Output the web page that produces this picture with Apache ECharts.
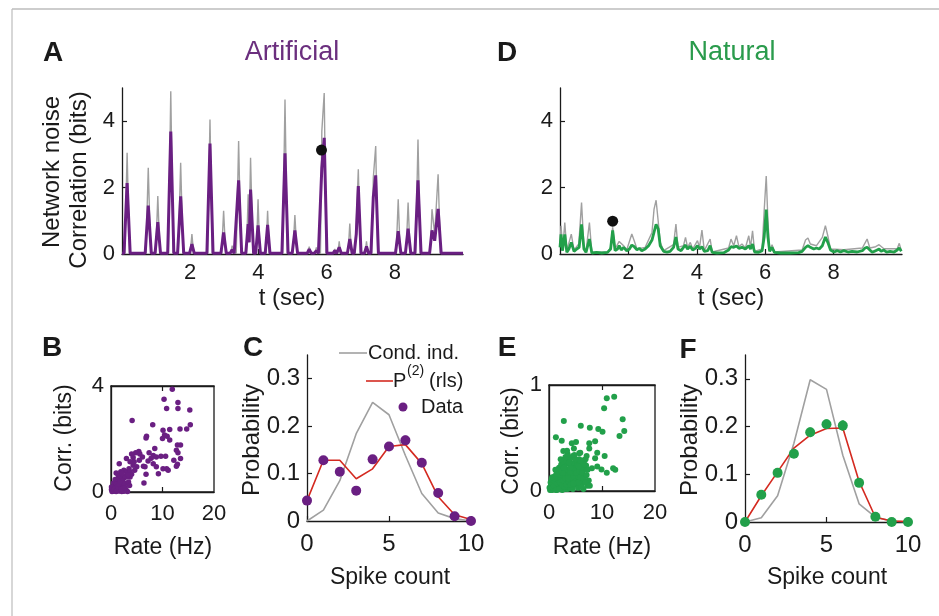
<!DOCTYPE html>
<html>
<head>
<meta charset="utf-8">
<script src="https://cdn.jsdelivr.net/npm/echarts@6/dist/echarts.min.js"></script>
<style>
  html, body { margin: 0; padding: 0; background: #fff; }
  #chart { width: 939px; height: 616px; }
</style>
</head>
<body>
<div id="chart"></div>
<script>
// A: artificial movie, t (sec) vs correlation (bits)
var artTrace = [
  [0, 0.02], [0.06, 0.02], [0.15, 2.14], [0.24, 0.02],
  [0.68, 0.02], [0.77, 1.46], [0.86, 0.02],
  [0.97, 0.02], [1.05, 0.96], [1.13, 0.02],
  [1.34, 0.02], [1.43, 3.69], [1.52, 0.02],
  [1.63, 0.02], [1.72, 1.74], [1.81, 0.02],
  [1.98, 0.02], [2.05, 0.30], [2.12, 0.02],
  [2.49, 0.02], [2.58, 3.33], [2.67, 0.02],
  [2.90, 0.02], [2.98, 0.65], [3.06, 0.02],
  [3.17, 0.02], [3.23, 0.13], [3.29, 0.02],
  [3.33, 0.02], [3.42, 2.22], [3.51, 0.02],
  [3.63, 0.02], [3.70, 0.90], [3.73, 0.35], [3.77, 1.94], [3.86, 0.02],
  [3.92, 0.02], [3.99, 0.86], [4.06, 0.02],
  [4.20, 0.02], [4.27, 0.88], [4.34, 0.02],
  [4.69, 0.02], [4.78, 3.03], [4.87, 0.02],
  [4.99, 0.02], [5.07, 0.71], [5.15, 0.02],
  [5.43, 0.02], [5.49, 0.15], [5.55, 0.02],
  [5.64, 0.02], [5.70, 0.10], [5.76, 0.02],
  [5.80, 0.02], [5.86, 2.60], [5.93, 3.50], [6.01, 0.02],
  [6.19, 0.02], [6.24, 0.10], [6.29, 0.02],
  [6.31, 0.02], [6.37, 0.20], [6.43, 0.02],
  [6.61, 0.02], [6.68, 0.45], [6.75, 0.02],
  [6.81, 0.02], [6.87, 0.60], [6.93, 2.05], [7.01, 0.02],
  [7.11, 0.02], [7.17, 0.23], [7.23, 0.02],
  [7.30, 0.02], [7.37, 1.72], [7.44, 2.37], [7.52, 0.02],
  [8.02, 0.02], [8.10, 0.69], [8.18, 0.02],
  [8.31, 0.02], [8.39, 0.76], [8.47, 0.02],
  [8.59, 0.02], [8.68, 2.22], [8.77, 0.02],
  [9.02, 0.02], [9.09, 0.71], [9.17, 0.40], [9.27, 1.36], [9.36, 0.02],
  [10, 0.02]
];
var artGray = [
  [0, 0.02], [0.08, 0.02], [0.15, 3.05], [0.22, 0.02],
  [0.70, 0.02], [0.77, 2.60], [0.84, 0.02],
  [0.99, 0.02], [1.05, 1.75], [1.11, 0.02],
  [1.36, 0.02], [1.43, 4.90], [1.50, 0.02],
  [1.65, 0.02], [1.72, 2.75], [1.79, 0.02],
  [2.00, 0.02], [2.05, 0.60], [2.10, 0.02],
  [2.51, 0.02], [2.58, 4.05], [2.65, 0.02],
  [2.92, 0.02], [2.98, 1.30], [3.04, 0.02],
  [3.19, 0.02], [3.23, 0.25], [3.27, 0.02],
  [3.35, 0.02], [3.42, 3.40], [3.49, 0.02],
  [3.65, 0.02], [3.70, 1.80], [3.73, 0.60], [3.77, 2.90], [3.84, 0.02],
  [3.94, 0.02], [3.99, 1.65], [4.04, 0.02],
  [4.22, 0.02], [4.27, 1.30], [4.32, 0.02],
  [4.71, 0.02], [4.78, 4.65], [4.85, 0.02],
  [5.01, 0.02], [5.07, 1.17], [5.13, 0.02],
  [5.45, 0.02], [5.49, 0.22], [5.53, 0.02],
  [5.66, 0.02], [5.70, 0.20], [5.74, 0.02],
  [5.82, 0.02], [5.86, 3.70], [5.93, 4.85], [5.99, 0.02],
  [6.21, 0.02], [6.24, 0.15], [6.27, 0.02],
  [6.33, 0.02], [6.37, 0.38], [6.41, 0.02],
  [6.63, 0.02], [6.68, 0.92], [6.73, 0.02],
  [6.83, 0.02], [6.87, 0.90], [6.93, 2.55], [6.99, 0.02],
  [7.13, 0.02], [7.17, 0.38], [7.21, 0.02],
  [7.32, 0.02], [7.37, 2.30], [7.44, 3.25], [7.50, 0.02],
  [8.04, 0.02], [8.10, 1.65], [8.16, 0.02],
  [8.33, 0.02], [8.39, 1.55], [8.45, 0.02],
  [8.61, 0.02], [8.68, 3.45], [8.75, 0.02],
  [9.04, 0.02], [9.09, 1.35], [9.17, 0.60], [9.27, 2.40], [9.34, 0.02],
  [10, 0.02]
];
var artDot = [[5.85, 3.13]];

// D: natural movie
var natTrace = [
  [0, 0.20], [0.03, 0.59], [0.07, 0.10], [0.14, 0.59], [0.20, 0.05], [0.26, 0.15],
  [0.33, 0.35], [0.41, 0.08], [0.49, 0.15], [0.56, 0.20], [0.63, 0.89], [0.70, 0.15],
  [0.76, 0.05], [0.86, 0.45], [0.93, 0.03], [1.07, 0.05], [1.22, 0.03], [1.39, 0.05],
  [1.48, 0.15], [1.54, 0.71], [1.61, 0.10], [1.68, 0.15], [1.73, 0.25], [1.79, 0.12],
  [1.86, 0.20], [1.95, 0.10], [2.03, 0.15], [2.10, 0.27], [2.17, 0.22], [2.25, 0.13],
  [2.32, 0.17], [2.39, 0.10], [2.49, 0.15], [2.59, 0.25], [2.69, 0.42], [2.75, 0.66],
  [2.81, 0.89], [2.87, 0.76], [2.93, 0.25], [3.03, 0.08], [3.13, 0.06], [3.22, 0.08],
  [3.32, 0.20], [3.39, 0.51], [3.45, 0.15], [3.54, 0.10], [3.61, 0.20], [3.67, 0.27],
  [3.73, 0.15], [3.81, 0.23], [3.88, 0.12], [3.96, 0.17], [4.02, 0.25], [4.08, 0.15],
  [4.15, 0.22], [4.22, 0.08], [4.32, 0.10], [4.39, 0.25], [4.45, 0.05], [4.59, 0.03],
  [4.79, 0.04], [4.93, 0.12], [5.00, 0.22], [5.08, 0.20], [5.16, 0.24], [5.23, 0.17],
  [5.32, 0.20], [5.42, 0.15], [5.52, 0.25], [5.57, 0.15], [5.63, 0.30], [5.69, 0.06],
  [5.81, 0.05], [5.91, 0.10], [5.97, 0.51], [6.03, 1.34], [6.08, 0.51], [6.13, 0.08],
  [6.20, 0.20], [6.27, 0.05], [6.45, 0.03], [6.74, 0.03], [6.98, 0.04], [7.08, 0.08],
  [7.18, 0.20], [7.25, 0.25], [7.32, 0.20], [7.42, 0.15], [7.50, 0.18], [7.58, 0.15],
  [7.67, 0.25], [7.76, 0.51], [7.83, 0.35], [7.91, 0.12], [8.01, 0.06], [8.11, 0.10],
  [8.20, 0.06], [8.30, 0.10], [8.42, 0.06], [8.54, 0.08], [8.69, 0.06], [8.84, 0.10],
  [8.92, 0.18], [8.98, 0.20], [9.06, 0.12], [9.13, 0.05], [9.23, 0.10], [9.33, 0.15],
  [9.39, 0.08], [9.47, 0.12], [9.55, 0.06], [9.65, 0.08], [9.77, 0.06], [9.86, 0.12],
  [9.92, 0.18], [9.98, 0.08]
];
var natGray = [
  [0, 0.30], [0.03, 0.85], [0.08, 0.15], [0.14, 0.95], [0.20, 0.10], [0.33, 0.60],
  [0.41, 0.12], [0.55, 0.30], [0.63, 1.55], [0.70, 0.20], [0.76, 0.08], [0.86, 0.95],
  [0.93, 0.05], [1.40, 0.06], [1.48, 0.20], [1.54, 0.80], [1.61, 0.15], [1.73, 0.38],
  [1.86, 0.25], [1.95, 0.12], [2.10, 0.60], [2.17, 0.40], [2.25, 0.15], [2.49, 0.20],
  [2.69, 0.65], [2.75, 1.35], [2.81, 1.62], [2.87, 1.00], [2.93, 0.35], [3.03, 0.10],
  [3.32, 0.28], [3.39, 0.90], [3.45, 0.20], [3.61, 0.25], [3.67, 0.50], [3.73, 0.20],
  [3.81, 0.35], [3.88, 0.15], [4.02, 0.40], [4.08, 0.20], [4.15, 0.72], [4.22, 0.10],
  [4.39, 0.45], [4.45, 0.06], [4.93, 0.18], [5.00, 0.45], [5.08, 0.25], [5.16, 0.55],
  [5.23, 0.22], [5.32, 0.30], [5.42, 0.18], [5.52, 0.55], [5.57, 0.20], [5.63, 0.70],
  [5.69, 0.08], [5.91, 0.15], [5.97, 1.30], [6.03, 2.35], [6.08, 1.00], [6.13, 0.10],
  [6.20, 0.28], [6.27, 0.06], [7.08, 0.12], [7.18, 0.42], [7.25, 0.48], [7.32, 0.30],
  [7.50, 0.25], [7.67, 0.50], [7.76, 0.85], [7.83, 0.55], [7.91, 0.15], [8.30, 0.13],
  [8.84, 0.18], [8.98, 0.45], [9.06, 0.18], [9.23, 0.22], [9.33, 0.28], [9.47, 0.16],
  [9.86, 0.16], [9.92, 0.32], [9.98, 0.10]
];
var natDot = [[1.54, 0.99]];

// B: rate (Hz) vs corr (bits), artificial
var ptsB = [
  [11.9, 3.88], [10.3, 3.5], [13.0, 3.38], [10.8, 3.15], [13.0, 3.15], [15.3, 3.09],
  [4.1, 2.7], [15.4, 2.54], [8.1, 2.54], [13.4, 2.38], [14.7, 2.38], [10.1, 2.33],
  [11.4, 2.36], [10.4, 2.15], [10.9, 2.1], [6.9, 2.1], [6.8, 2.04], [10.0, 2.02],
  [11.4, 1.96], [12.9, 1.77], [13.5, 1.77], [12.7, 1.58], [8.5, 1.64], [5.4, 1.53],
  [4.8, 1.48], [7.4, 1.48], [4.0, 1.43], [3.0, 1.26], [4.3, 1.3], [8.2, 1.38],
  [8.8, 1.32], [9.7, 1.35], [10.6, 1.35], [13.0, 1.48], [13.5, 1.26], [12.2, 1.2],
  [7.8, 1.27], [7.2, 1.17], [6.3, 0.97], [6.6, 0.95], [8.2, 1.07], [8.8, 0.95],
  [10.1, 0.88], [10.8, 0.88], [9.2, 0.69], [11.1, 0.82], [12.7, 0.97], [12.9, 1.05],
  [6.8, 0.67], [6.4, 0.34], [1.6, 1.07], [1.0, 0.72], [1.4, 0.63], [1.9, 0.76],
  [2.5, 0.82], [3.0, 0.76], [3.5, 0.88], [3.7, 0.76], [4.3, 1.01], [5.0, 0.95],
  [4.6, 0.82], [4.0, 0.67], [3.7, 0.57], [3.0, 0.57], [2.4, 0.5], [2.1, 0.42],
  [1.2, 0.38], [0.8, 0.25], [0.5, 0.19], [0.1, 0.09], [0.3, 0.03], [0.6, 0.04],
  [1.0, 0.09], [1.4, 0.11], [1.9, 0.19], [2.4, 0.21], [2.9, 0.09], [3.2, 0.02],
  [2.8, 0.32], [3.4, 0.38], [1.2, 0.19], [0.8, 0.13], [1.7, 0.29], [2.3, 0.34],
  [1.4, 0.5], [0.8, 0.47], [0.5, 0.34], [1.0, 0.29], [0.1, 0.19], [1.6, 0.04],
  [2.1, 0.02], [1.0, 0.02], [2.5, 0.03], [6.1, 1.32], [5.5, 1.2], [5.6, 1.43],
  [4.5, 1.14], [3.7, 1.14], [0.2, 0.02], [0.4, 0.06], [0.6, 0.1], [0.9, 0.15],
  [1.1, 0.05], [1.3, 0.2], [1.5, 0.3], [1.8, 0.4], [2.0, 0.1], [2.2, 0.55],
  [2.6, 0.6], [3.3, 0.65], [1.8, 0.62], [2.1, 0.7], [2.7, 0.15], [3.6, 0.25]
];

// E: rate (Hz) vs corr (bits), natural
var ptsE = [
  [10.9, 0.874], [12.3, 0.89], [10.4, 0.78], [13.9, 0.676], [2.8, 0.66], [14.2, 0.566],
  [6.0, 0.616], [7.7, 0.597], [9.3, 0.585], [10.1, 0.56], [13.3, 0.52], [1.3, 0.506],
  [2.4, 0.475], [5.1, 0.462], [4.3, 0.45], [8.7, 0.47], [7.6, 0.45], [2.7, 0.377],
  [7.6, 0.4], [9.1, 0.36], [10.5, 0.33], [5.7, 0.355], [7.1, 0.33], [8.7, 0.308],
  [6.5, 0.29], [3.8, 0.277], [5.2, 0.26], [12.1, 0.214], [12.5, 0.2], [10.9, 0.173],
  [9.1, 0.23], [9.9, 0.204], [8.1, 0.214], [1.6, 0.204],
  [0.2, 0.01], [0.4, 0.02], [0.6, 0.01], [0.8, 0.04], [1.0, 0.02], [1.2, 0.06],
  [1.4, 0.03], [1.6, 0.08], [1.8, 0.04], [2.0, 0.1], [2.2, 0.05], [2.4, 0.12],
  [2.6, 0.03], [2.8, 0.15], [3.0, 0.07], [3.2, 0.18], [3.4, 0.1], [3.6, 0.2],
  [3.8, 0.05], [4.0, 0.14], [4.2, 0.22], [4.4, 0.09], [4.6, 0.25], [4.8, 0.17],
  [5.0, 0.06], [5.2, 0.2], [5.4, 0.28], [5.6, 0.12], [5.8, 0.22], [6.0, 0.16],
  [6.2, 0.26], [6.4, 0.08], [6.6, 0.2], [6.8, 0.14], [7.0, 0.24], [7.2, 0.05],
  [7.5, 0.1], [0.5, 0.06], [0.9, 0.09], [1.3, 0.12], [1.7, 0.15], [2.1, 0.18],
  [2.5, 0.2], [2.9, 0.24], [3.3, 0.26], [3.7, 0.3], [4.1, 0.31], [4.5, 0.33],
  [1.1, 0.14], [1.5, 0.18], [1.9, 0.22], [2.3, 0.25], [2.7, 0.28], [3.1, 0.32],
  [3.5, 0.35], [0.3, 0.04], [0.7, 0.07], [1.5, 0.01], [2.5, 0.01], [3.5, 0.02],
  [4.5, 0.02], [5.5, 0.03], [6.5, 0.02], [3.9, 0.25], [4.3, 0.16], [4.9, 0.27],
  [5.3, 0.13], [5.7, 0.3], [6.1, 0.04], [6.9, 0.3], [2.0, 0.02], [3.0, 0.02],
  [4.0, 0.03], [5.0, 0.12], [6.0, 0.1], [1.2, 0.2], [2.2, 0.3], [3.4, 0.38],
  [4.7, 0.4], [5.9, 0.36],
  [0.1, 0.03], [0.3, 0.08], [0.5, 0.11], [0.7, 0.03], [0.9, 0.05], [1.1, 0.09],
  [1.3, 0.01], [1.5, 0.07], [1.7, 0.11], [1.9, 0.02], [2.1, 0.08], [2.3, 0.14],
  [2.5, 0.06], [2.7, 0.1], [2.9, 0.04], [3.1, 0.12], [3.3, 0.06], [3.5, 0.15],
  [3.7, 0.09], [3.9, 0.18], [4.1, 0.06], [4.3, 0.26], [4.5, 0.12], [4.7, 0.21],
  [4.9, 0.09], [5.1, 0.17], [5.3, 0.24], [5.5, 0.08], [5.7, 0.19], [5.9, 0.13],
  [6.1, 0.22], [6.3, 0.17], [6.5, 0.12], [6.7, 0.25], [6.9, 0.08], [7.1, 0.15],
  [7.3, 0.2], [7.7, 0.05], [1.0, 0.12], [2.0, 0.15], [3.0, 0.2], [4.0, 0.22],
  [5.0, 0.3], [6.0, 0.28], [2.6, 0.17], [3.6, 0.12], [4.6, 0.07], [5.6, 0.23],
  [1.8, 0.19], [2.8, 0.22], [3.8, 0.27], [4.8, 0.34], [0.6, 0.13], [1.4, 0.16]
];

// C, F: spike count distributions
var spikeCount = [0, 1, 2, 3, 4, 5, 6, 7, 8, 9, 10];
var condIndC = [0.0, 0.023, 0.085, 0.184, 0.25, 0.224, 0.138, 0.058, 0.017, 0.005, 0.0];
var pairC    = [0.043, 0.128, 0.128, 0.089, 0.11, 0.157, 0.161, 0.121, 0.051, 0.013, 0.003];
var dataC    = [0.043, 0.128, 0.104, 0.064, 0.13, 0.157, 0.17, 0.123, 0.059, 0.01, 0.0];
var errC     = [0.004, 0.009, 0.008, 0.005, 0.009, 0.009, 0.01, 0.008, 0.006, 0.003, 0.001];
var condIndF = [0.0, 0.009, 0.055, 0.165, 0.298, 0.278, 0.14, 0.038, 0.01, 0.002, 0.0];
var pairF    = [0.0, 0.055, 0.105, 0.155, 0.182, 0.196, 0.197, 0.085, 0.01, 0.002, 0.001];
var dataF    = [0.0, 0.057, 0.103, 0.143, 0.188, 0.205, 0.202, 0.082, 0.011, 0.0, 0.0];
var errF     = [0.001, 0.005, 0.007, 0.009, 0.01, 0.01, 0.011, 0.006, 0.003, 0.001, 0.001];

var PURPLE = '#6a1f82';
var GREEN = '#22a04a';
var RED = '#d42a20';
var GRAY = '#a0a0a0';
var INK = '#1a1a1a';
var FONT = '"Liberation Sans", Arial, Helvetica, sans-serif';

function pairs(xs, ys) {
  return xs.map(function (x, i) { return [x, ys[i]]; });
}
function triples(xs, ys, es) {
  return xs.map(function (x, i) { return [x, ys[i], es[i]]; });
}

function xAx(grid, max, labels, ticks, size, margin, extra) {
  var a = {
    type: 'value', gridIndex: grid, min: 0, max: max,
    splitLine: { show: false },
    axisLine: { show: true, onZero: false, lineStyle: { color: INK, width: 1.3 } },
    axisTick: { show: true, inside: true, length: 5, customValues: ticks, lineStyle: { color: INK, width: 1.2 } },
    axisLabel: { show: true, customValues: labels, color: INK, fontSize: size, margin: margin, fontFamily: FONT }
  };
  return Object.assign(a, extra || {});
}
function yAx(grid, max, labels, ticks, size, fmt) {
  return {
    type: 'value', gridIndex: grid, min: 0, max: max,
    splitLine: { show: false },
    axisLine: { show: true, onZero: false, lineStyle: { color: INK, width: 1.3 } },
    axisTick: { show: true, inside: true, length: 5, customValues: ticks, lineStyle: { color: INK, width: 1.2 } },
    axisLabel: { show: true, customValues: labels, color: INK, fontSize: size, margin: 7, fontFamily: FONT, formatter: fmt }
  };
}
function probFmt(v) { return v === 0 ? '0' : v.toFixed(1); }

function errBars(xi, yi, data, color) {
  return {
    type: 'custom', xAxisIndex: xi, yAxisIndex: yi, data: data, z: 3,
    renderItem: function (params, api) {
      var x = api.value(0), y = api.value(1), e = api.value(2);
      var p1 = api.coord([x, y - e]), p2 = api.coord([x, y + e]);
      return { type: 'line', shape: { x1: p1[0], y1: p1[1], x2: p2[0], y2: p2[1] }, style: { stroke: color, lineWidth: 2.4 } };
    }
  };
}

function txt(x, y, s, size, opt) {
  opt = opt || {};
  return {
    type: 'text', x: x, y: y, rotation: opt.rot || 0, z: 10,
    style: {
      text: s, fill: opt.color || INK, fontSize: size, fontFamily: FONT,
      fontWeight: opt.bold ? 'bold' : 'normal',
      align: opt.align || 'center', verticalAlign: 'middle'
    }
  };
}

var chart = echarts.init(document.getElementById('chart'));
var boxStyle = { show: true, borderColor: INK, borderWidth: 1.3, backgroundColor: 'transparent' };
var noLabel = { axisLabel: { show: false } };

var option = {
  animation: false,
  backgroundColor: '#fff',
  textStyle: { fontFamily: FONT },
  grid: [
    { left: 122, top: 88, width: 341, height: 166 },
    { left: 560, top: 88, width: 342, height: 166 },
    Object.assign({ left: 111, top: 386, width: 103, height: 106 }, boxStyle),
    { left: 307, top: 355, width: 164, height: 166 },
    Object.assign({ left: 549, top: 385, width: 106, height: 106 }, boxStyle),
    { left: 745, top: 355, width: 163, height: 167 }
  ],
  xAxis: [
    xAx(0, 10, [2, 4, 6, 8], [2, 4, 6, 8], 22, 8),
    xAx(1, 10, [2, 4, 6, 8], [2, 4, 6, 8], 22, 8),
    xAx(2, 20, [0, 10, 20], [10], 22, 11),
    xAx(3, 10, [0, 5, 10], [0, 5, 10], 24, 11),
    xAx(4, 20, [0, 10, 20], [10], 22, 11),
    xAx(5, 10, [0, 5, 10], [0, 5, 10], 24, 11),
    xAx(2, 20, [], [10], 22, 8, Object.assign({ position: 'top' }, noLabel)),
    xAx(4, 20, [], [10], 22, 8, Object.assign({ position: 'top' }, noLabel))
  ],
  yAxis: [
    yAx(0, 5, [0, 2, 4], [2, 4], 22),
    yAx(1, 5, [0, 2, 4], [2, 4], 22),
    yAx(2, 4, [0, 4], [], 22),
    yAx(3, 0.35, [0, 0.1, 0.2, 0.3], [0.1, 0.2, 0.3], 24, probFmt),
    yAx(4, 1, [0, 1], [], 22),
    yAx(5, 0.35, [0, 0.1, 0.2, 0.3], [0.1, 0.2, 0.3], 24, probFmt)
  ],
  series: [
    { type: 'line', xAxisIndex: 0, yAxisIndex: 0, data: artGray, showSymbol: false, lineStyle: { color: GRAY, width: 1.4 } },
    { type: 'line', xAxisIndex: 0, yAxisIndex: 0, data: artTrace, showSymbol: false, lineStyle: { color: PURPLE, width: 3 } },
    { type: 'scatter', xAxisIndex: 0, yAxisIndex: 0, data: artDot, symbolSize: 11, itemStyle: { color: '#111', opacity: 1 }, z: 5 },

    { type: 'line', xAxisIndex: 1, yAxisIndex: 1, data: natGray, showSymbol: false, lineStyle: { color: GRAY, width: 1.4 } },
    { type: 'line', xAxisIndex: 1, yAxisIndex: 1, data: natTrace, showSymbol: false, lineStyle: { color: GREEN, width: 2.8 } },
    { type: 'scatter', xAxisIndex: 1, yAxisIndex: 1, data: natDot, symbolSize: 11, itemStyle: { color: '#111', opacity: 1 }, z: 5 },

    { type: 'scatter', xAxisIndex: 2, yAxisIndex: 2, data: ptsB, symbolSize: 5.5, itemStyle: { color: PURPLE, opacity: 1 } },

    { type: 'line', xAxisIndex: 3, yAxisIndex: 3, data: pairs(spikeCount, condIndC), showSymbol: false, lineStyle: { color: GRAY, width: 1.6 } },
    { type: 'line', xAxisIndex: 3, yAxisIndex: 3, data: pairs(spikeCount, pairC), showSymbol: false, lineStyle: { color: RED, width: 1.6 } },
    errBars(3, 3, triples(spikeCount, dataC, errC), PURPLE),
    { type: 'scatter', xAxisIndex: 3, yAxisIndex: 3, data: pairs(spikeCount, dataC), symbolSize: 10, itemStyle: { color: PURPLE, opacity: 1 }, z: 4 },

    { type: 'scatter', xAxisIndex: 4, yAxisIndex: 4, data: ptsE, symbolSize: 6, itemStyle: { color: GREEN, opacity: 1 } },

    { type: 'line', xAxisIndex: 5, yAxisIndex: 5, data: pairs(spikeCount, condIndF), showSymbol: false, lineStyle: { color: GRAY, width: 1.6 } },
    { type: 'line', xAxisIndex: 5, yAxisIndex: 5, data: pairs(spikeCount, pairF), showSymbol: false, lineStyle: { color: RED, width: 1.6 } },
    errBars(5, 5, triples(spikeCount, dataF, errF), GREEN),
    { type: 'scatter', xAxisIndex: 5, yAxisIndex: 5, data: pairs(spikeCount, dataF), symbolSize: 10, itemStyle: { color: GREEN, opacity: 1 }, z: 4 }
  ],
  graphic: [
    // frame
    { type: 'line', shape: { x1: 12, y1: 9, x2: 939, y2: 9 }, style: { stroke: '#bdbdbd', lineWidth: 1.5 } },
    { type: 'line', shape: { x1: 12, y1: 9, x2: 12, y2: 616 }, style: { stroke: '#bdbdbd', lineWidth: 1.2 } },

    txt(53, 53, 'A', 28, { bold: true }),
    txt(292, 53, 'Artificial', 27, { color: '#6b2f7e' }),
    txt(507, 53, 'D', 28, { bold: true }),
    txt(732, 53, 'Natural', 27, { color: '#2a9b4c' }),

    txt(52, 172, 'Network noise', 24, { rot: Math.PI / 2 }),
    txt(79, 180, 'Correlation (bits)', 24, { rot: Math.PI / 2 }),
    txt(292, 298, 't (sec)', 24),
    txt(731, 298, 't (sec)', 24),

    txt(52, 348, 'B', 28, { bold: true }),
    txt(253, 348, 'C', 28, { bold: true }),
    txt(507, 348, 'E', 28, { bold: true }),
    txt(688, 350, 'F', 28, { bold: true }),

    txt(65, 438, 'Corr. (bits)', 23, { rot: Math.PI / 2 }),
    txt(512, 441, 'Corr. (bits)', 23, { rot: Math.PI / 2 }),
    txt(163, 548, 'Rate (Hz)', 23),
    txt(602, 548, 'Rate (Hz)', 23),
    txt(252, 440, 'Probability', 24, { rot: Math.PI / 2 }),
    txt(690, 440, 'Probability', 24, { rot: Math.PI / 2 }),
    txt(390, 578, 'Spike count', 23),
    txt(827, 578, 'Spike count', 23),

    // legend of C
    { type: 'line', shape: { x1: 339, y1: 353, x2: 367, y2: 353 }, style: { stroke: GRAY, lineWidth: 1.6 }, z: 10 },
    txt(368, 353, 'Cond. ind.', 20, { align: 'left' }),
    { type: 'line', shape: { x1: 366, y1: 381, x2: 393, y2: 381 }, style: { stroke: RED, lineWidth: 1.6 }, z: 10 },
    txt(393, 381, 'P', 20, { align: 'left' }),
    txt(407, 371, '(2)', 14, { align: 'left' }),
    txt(429, 381, '(rls)', 20, { align: 'left' }),
    { type: 'circle', shape: { cx: 403, cy: 407, r: 4.5 }, style: { fill: PURPLE }, z: 10 },
    txt(421, 407, 'Data', 20, { align: 'left' })
  ]
};
chart.setOption(option);
</script>
</body>
</html>
